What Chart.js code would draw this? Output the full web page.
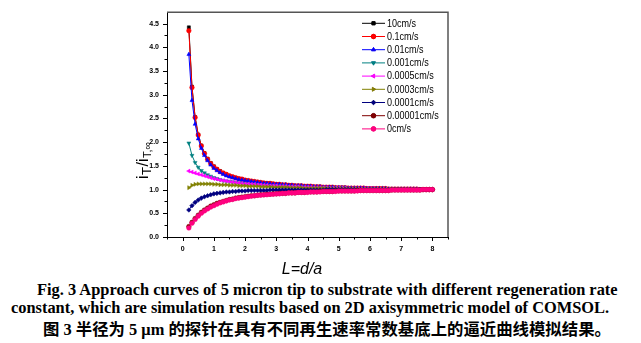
<!DOCTYPE html>
<html lang="en">
<head>
  <meta charset="UTF-8"/>
  <title>Approach curves</title>
  <script src="https://cdn.jsdelivr.net/npm/chart.js"></script>
  <style>
    body { margin: 0; background: #fff; width: 641px; height: 343px; overflow: hidden; position: relative; }
    #wrap { position: absolute; left: 0; top: 0; width: 641px; height: 280px; }
    .cap { position: absolute; white-space: nowrap; font-family: "Liberation Serif", "Times New Roman", serif; font-weight: bold; font-size: 16.4px; color: #000; }
    #c3 { font-family: "Liberation Serif", "Noto Sans CJK SC", serif; }
  </style>
</head>
<body>
  <div id="wrap"><canvas id="chart" width="641" height="280"></canvas></div>
  <div class="cap" id="c1" style="left:37px; top:280px;">Fig. 3 Approach curves of 5 micron tip to substrate with different regeneration rate</div>
  <div class="cap" id="c2" style="left:11px; top:298px;">constant, which are simulation results based on 2D axisymmetric model of COMSOL.</div>
  <div class="cap" id="c3" style="left:43px; top:316px;">图 3 半径为 5 μm 的探针在具有不同再生速率常数基底上的逼近曲线模拟结果。</div>

  <script>
    // L = d/a
    const xs = [0.2,0.3,0.4,0.5,0.6,0.7,0.8,0.9,1.0,1.1,1.2,1.3,1.4,1.5,1.6,1.7,1.8,1.9,2.0,
      2.1,2.2,2.3,2.4,2.5,2.6,2.7,2.8,2.9,3.0,3.1,3.2,3.3,3.4,3.5,3.6,3.7,3.8,3.9,4.0,
      4.1,4.2,4.3,4.4,4.5,4.6,4.7,4.8,4.9,5.0,5.1,5.2,5.3,5.4,5.5,5.6,5.7,5.8,5.9,6.0,
      6.1,6.2,6.3,6.4,6.5,6.6,6.7,6.8,6.9,7.0,7.1,7.2,7.3,7.4,7.5,7.6,7.7,7.8,7.9,8.0];

    const k10 = [4.42,3.17,2.53,2.16,1.93,1.77,1.65,1.56,1.49,1.43,1.39,1.35,1.32,1.29,1.27,1.25,1.23,1.22,1.20,
      1.19,1.18,1.17,1.16,1.15,1.14,1.13,1.13,1.12,1.11,1.11,1.10,1.10,1.09,1.09,1.08,1.08,1.08,1.07,1.07,
      1.07,1.06,1.06,1.06,1.05,1.05,1.05,1.05,1.04,1.04,1.04,1.04,1.03,1.03,1.03,1.03,1.03,1.03,1.02,1.02,
      1.02,1.02,1.02,1.02,1.02,1.01,1.01,1.01,1.01,1.01,1.01,1.01,1.01,1.01,1.01,1.00,1.00,1.00,1.00,1.00];
    const k01 = [4.35,3.15,2.52,2.15,1.92,1.76,1.64,1.55,1.48,1.43,1.38,1.35,1.32,1.29,1.27,1.25,1.23,1.22,1.20,
      1.19,1.18,1.17,1.16,1.15,1.14,1.13,1.13,1.12,1.11,1.11,1.10,1.10,1.09,1.09,1.08,1.08,1.08,1.07,1.07,
      1.07,1.06,1.06,1.06,1.05,1.05,1.05,1.05,1.04,1.04,1.04,1.04,1.03,1.03,1.03,1.03,1.03,1.03,1.02,1.02,
      1.02,1.02,1.02,1.02,1.02,1.01,1.01,1.01,1.01,1.01,1.01,1.01,1.01,1.01,1.01,1.00,1.00,1.00,1.00,1.00];
    const k001 = [3.85,2.88,2.38,2.07,1.87,1.72,1.61,1.52,1.45,1.40,1.36,1.32,1.29,1.27,1.25,1.23,1.21,1.20,1.19,
      1.18,1.17,1.16,1.15,1.14,1.13,1.13,1.12,1.11,1.11,1.11,1.10,1.10,1.09,1.09,1.08,1.08,1.08,1.07,1.07,
      1.07,1.06,1.06,1.06,1.05,1.05,1.05,1.05,1.04,1.04,1.04,1.04,1.03,1.03,1.03,1.03,1.03,1.03,1.02,1.02,
      1.02,1.02,1.02,1.02,1.02,1.01,1.01,1.01,1.01,1.01,1.01,1.01,1.01,1.01,1.01,1.00,1.00,1.00,1.00,1.00];
    const k0001 = [1.98,1.72,1.57,1.47,1.40,1.35,1.31,1.28,1.25,1.23,1.21,1.19,1.18,1.17,1.16,1.15,1.14,1.13,1.12,
      1.12,1.11,1.11,1.10,1.10,1.09,1.09,1.08,1.08,1.08,1.07,1.07,1.07,1.06,1.06,1.06,1.06,1.05,1.05,1.05,
      1.05,1.04,1.04,1.04,1.04,1.04,1.03,1.03,1.03,1.03,1.03,1.03,1.02,1.02,1.02,1.02,1.02,1.02,1.02,1.02,
      1.02,1.01,1.01,1.01,1.01,1.01,1.01,1.01,1.01,1.01,1.01,1.01,1.01,1.01,1.01,1.00,1.00,1.00,1.00,1.00];
    const k0005 = [1.39,1.37,1.35,1.33,1.31,1.29,1.27,1.25,1.23,1.22,1.20,1.19,1.18,1.17,1.16,1.15,1.14,1.13,1.12,
      1.12,1.11,1.11,1.10,1.10,1.09,1.09,1.08,1.08,1.08,1.07,1.07,1.07,1.06,1.06,1.06,1.06,1.05,1.05,1.05,
      1.05,1.04,1.04,1.04,1.04,1.04,1.03,1.03,1.03,1.03,1.03,1.03,1.02,1.02,1.02,1.02,1.02,1.02,1.02,1.02,
      1.02,1.01,1.01,1.01,1.01,1.01,1.01,1.01,1.01,1.01,1.01,1.01,1.01,1.01,1.01,1.00,1.00,1.00,1.00,1.00];
    const k0003 = [1.04,1.09,1.11,1.12,1.12,1.12,1.12,1.12,1.11,1.11,1.10,1.10,1.10,1.09,1.09,1.09,1.08,1.08,1.08,
      1.07,1.07,1.07,1.07,1.06,1.06,1.06,1.06,1.05,1.05,1.05,1.05,1.05,1.04,1.04,1.04,1.04,1.04,1.03,1.03,
      1.03,1.03,1.03,1.03,1.03,1.03,1.02,1.02,1.02,1.02,1.02,1.02,1.02,1.02,1.02,1.02,1.01,1.01,1.01,1.01,
      1.01,1.01,1.01,1.01,1.01,1.01,1.01,1.01,1.01,1.01,1.01,1.01,1.01,1.00,1.00,1.00,1.00,1.00,1.00,1.00];
    const k0001b = [0.57,0.66,0.73,0.78,0.82,0.85,0.87,0.89,0.91,0.92,0.93,0.94,0.95,0.95,0.96,0.96,0.97,0.97,0.97,
      0.98,0.98,0.98,0.98,0.98,0.98,0.98,0.99,0.99,0.99,0.99,0.99,0.99,0.99,0.99,0.99,0.99,0.99,0.99,0.99,
      0.99,0.99,0.99,0.99,0.99,1.00,1.00,1.00,1.00,1.00,1.00,1.00,1.00,1.00,1.00,1.00,1.00,1.00,1.00,1.00,
      1.00,1.00,1.00,1.00,1.00,1.00,1.00,1.00,1.00,1.00,1.00,1.00,1.00,1.00,1.00,1.00,1.00,1.00,1.00,1.00];
    const k00001 = [0.22,0.31,0.39,0.46,0.52,0.57,0.61,0.65,0.68,0.71,0.73,0.75,0.77,0.79,0.80,0.82,0.83,0.84,0.85,
      0.86,0.87,0.87,0.88,0.89,0.89,0.90,0.90,0.91,0.91,0.92,0.92,0.92,0.93,0.93,0.93,0.94,0.94,0.94,0.95,
      0.95,0.95,0.95,0.96,0.96,0.96,0.96,0.96,0.97,0.97,0.97,0.97,0.97,0.97,0.97,0.98,0.98,0.98,0.98,0.98,
      0.98,0.98,0.98,0.98,0.98,0.98,0.99,0.99,0.99,0.99,0.99,0.99,0.99,0.99,0.99,0.99,1.00,1.00,1.00,1.00];
    const k0 = [0.19,0.29,0.37,0.44,0.50,0.55,0.59,0.63,0.66,0.69,0.72,0.74,0.76,0.78,0.79,0.81,0.82,0.83,0.84,
      0.85,0.86,0.87,0.88,0.88,0.89,0.89,0.90,0.90,0.91,0.91,0.92,0.92,0.93,0.93,0.93,0.94,0.94,0.94,0.94,
      0.95,0.95,0.95,0.95,0.96,0.96,0.96,0.96,0.96,0.97,0.97,0.97,0.97,0.97,0.97,0.97,0.98,0.98,0.98,0.98,
      0.98,0.98,0.98,0.98,0.98,0.98,0.99,0.99,0.99,0.99,0.99,0.99,0.99,0.99,0.99,0.99,1.00,1.00,1.00,1.00];

    const labels  = ['10cm/s','0.1cm/s','0.01cm/s','0.001cm/s','0.0005cm/s','0.0003cm/s','0.0001cm/s','0.00001cm/s','0cm/s'];
    const series  = [k10, k01, k001, k0001, k0005, k0003, k0001b, k00001, k0];
    const colors  = ['#000000','#ff0000','#0000ff','#008080','#ff00ff','#808000','#000080','#800000','#ff0080'];
    const markers = ['rect','circle','triangle','triangle','triangle','triangle','rectRot','circle','circle'];
    const rots    = [0, 0, 0, 180, -90, 90, 0, 0, 0];

    const datasets = series.map((s, i) => ({
      label: labels[i],
      data: s.map((v, j) => ({ x: xs[j], y: v })),
      borderColor: colors[i],
      backgroundColor: colors[i],
      borderWidth: 1,
      pointStyle: markers[i],
      pointRotation: rots[i],
      pointRadius: markers[i] === 'rect' ? 2.2 : 2.3,
      pointBorderWidth: 0.5,
      pointBackgroundColor: colors[i],
      pointBorderColor: colors[i],
      order: series.length - i
    }));

    // box, ticks, legend and axis titles
    const decor = {
      id: 'decor',
      afterDraw(chart) {
        const ctx = chart.ctx, a = chart.chartArea;
        const xs_ = chart.scales.x, ys_ = chart.scales.y;
        ctx.save();
        // top & right frame
        ctx.strokeStyle = '#555';
        ctx.lineWidth = 1.5;
        ctx.beginPath();
        ctx.moveTo(a.left, a.top); ctx.lineTo(a.right, a.top); ctx.lineTo(a.right, a.bottom);
        ctx.stroke();
        // ticks
        ctx.strokeStyle = '#000';
        ctx.lineWidth = 1;
        ctx.beginPath();
        xs_.ticks.forEach(t => {
          const px = Math.round(xs_.getPixelForValue(t.value)) + 0.5;
          const len = Number.isInteger(Math.round(t.value * 100) / 100) ? 4 : 2.5;
          ctx.moveTo(px, a.bottom); ctx.lineTo(px, a.bottom + len);
        });
        ys_.ticks.forEach(t => {
          const q = Math.round(t.value * 100);
          if (q % 25 !== 0) return;
          const py = Math.round(ys_.getPixelForValue(t.value)) + 0.5;
          const len = q % 50 === 0 ? 4 : 2.5;
          ctx.moveTo(a.left, py); ctx.lineTo(a.left - len, py);
        });
        ctx.stroke();

        // legend
        const lx = 362, ly = 23.3, step = 13.2;
        chart.data.datasets.forEach((d, i) => {
          const y = ly + i * step;
          ctx.strokeStyle = d.borderColor;
          ctx.lineWidth = 1;
          ctx.beginPath(); ctx.moveTo(lx, y); ctx.lineTo(lx + 23, y); ctx.stroke();
          Chart.helpers.drawPoint(ctx, {
            pointStyle: d.pointStyle, rotation: d.pointRotation, radius: 2.3, borderWidth: 0.5
          }, lx + 11.5, y);
          ctx.fillStyle = d.borderColor;
          ctx.fill();
          ctx.save();
          ctx.translate(lx + 25, y);
          ctx.scale(0.86, 1);
          ctx.fillStyle = '#000';
          ctx.font = '10.5px Arial, "Liberation Sans", sans-serif';
          ctx.textBaseline = 'middle';
          ctx.fillText(d.label, 0, 0.5);
          ctx.restore();
        });

        // x title
        ctx.fillStyle = '#000';
        ctx.font = 'italic 16px Arial, "Liberation Sans", sans-serif';
        ctx.textAlign = 'center';
        ctx.textBaseline = 'middle';
        ctx.fillText('L=d/a', 302, 270);

        // y title iT/iT,∞
        ctx.save();
        ctx.translate(148, 161);
        ctx.rotate(-Math.PI / 2);
        const parts = [['i', 16, 0], ['T', 13, 3], ['/i', 16, 0], ['T,∞', 11, 3]];
        let w = 0;
        parts.forEach(p => { ctx.font = p[1] + 'px Arial, "Liberation Sans", sans-serif'; w += ctx.measureText(p[0]).width; });
        let x = -w / 2;
        ctx.textAlign = 'left';
        ctx.textBaseline = 'alphabetic';
        parts.forEach(p => {
          ctx.font = p[1] + 'px Arial, "Liberation Sans", sans-serif';
          ctx.fillText(p[0], x, p[2]);
          x += ctx.measureText(p[0]).width + 0.5;
        });
        ctx.restore();
        ctx.restore();
      }
    };

    const tickFont = { family: 'Arial, "Liberation Sans", sans-serif', size: 7, weight: 'bold' };

    new Chart(document.getElementById('chart').getContext('2d'), {
      type: 'line',
      data: { datasets },
      plugins: [decor],
      options: {
        responsive: false,
        animation: false,
        layout: { padding: { top: 12, right: 193, bottom: 0, left: 0 } },
        plugins: { legend: { display: false }, tooltip: { enabled: false } },
        scales: {
          x: {
            type: 'linear', min: -0.5, max: 8.5,
            grid: { display: false, drawTicks: false },
            border: { display: true, color: '#000', width: 1 },
            ticks: {
              stepSize: 0.5, padding: 8, color: '#000', font: tickFont, maxRotation: 0, autoSkip: false,
              callback: v => Number.isInteger(Math.round(v * 100) / 100) && v >= 0 && v <= 8 ? String(Math.round(v)) : ''
            },
            afterFit: s => { s.height = 43; }
          },
          y: {
            min: 0, max: 4.74,
            grid: { display: false, drawTicks: false },
            border: { display: true, color: '#000', width: 1 },
            ticks: {
              stepSize: 0.25, padding: 8, color: '#000', font: tickFont, autoSkip: false,
              callback: v => { const q = Math.round(v * 100); return q % 50 === 0 ? (q / 100).toFixed(1) : ''; }
            },
            afterFit: s => { s.width = 167; }
          }
        }
      }
    });
  </script>
</body>
</html>
